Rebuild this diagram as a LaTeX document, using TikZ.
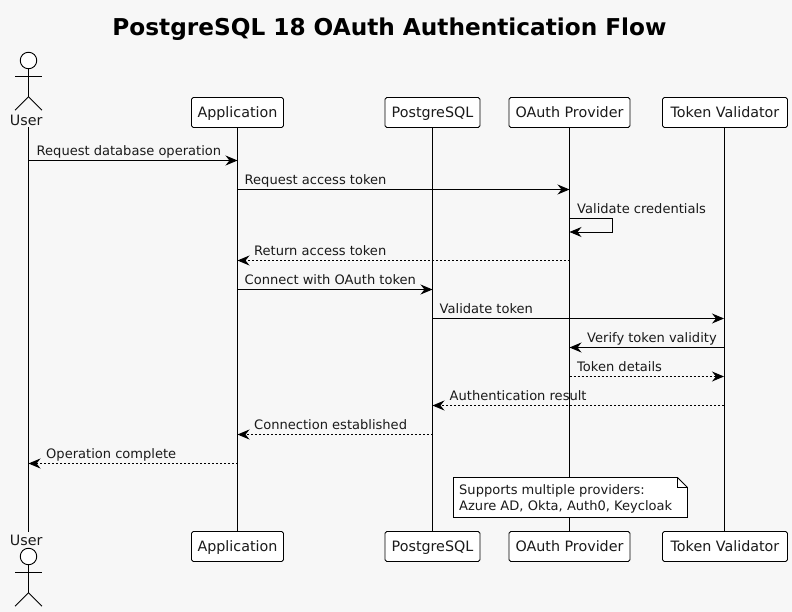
\documentclass[tikz,border=0pt]{standalone}
\usepackage{fontspec}
\setmainfont{DejaVu Sans}
\usetikzlibrary{arrows.meta}
\definecolor{bgc}{HTML}{F7F7F7}
\definecolor{txt}{HTML}{1A1A1A}
\tikzset{
  x=1pt,y=-1pt,
  life/.style={line width=0.9pt,black},
  part/.style={draw=black,fill=white,line width=0.9pt,rounded corners=1.8pt,minimum height=30pt,inner sep=0pt,text height=12pt,text depth=1.6pt,text=txt,font=\fontsize{14.3}{16}\selectfont},
  msg/.style={line width=0.9pt,black,-{Stealth[length=12pt,width=10pt,inset=4pt]}},
  ret/.style={msg,dash pattern=on 2pt off 2pt},
  lbl/.style={anchor=base west,inner sep=0pt,text=txt,font=\fontsize{13.05}{16}\selectfont},
  actorlbl/.style={anchor=base,inner sep=0pt,text=txt,font=\fontsize{14.3}{16}\selectfont},
  actorline/.style={line width=0.9pt,black},
}
\begin{document}
\begin{tikzpicture}
\useasboundingbox[fill=bgc] (0,0) rectangle (792,612);
\node[anchor=base,inner sep=0pt,font=\fontsize{23.2}{26}\bfseries\selectfont] (title) at (389.5,36) {PostgreSQL 18 OAuth Authentication Flow};

% lifelines (drawn first, the boxes sit on top)
\foreach \nm/\xx in {u/28.5,a/237.5,p/432.5,o/569.5,t/724}{
  \coordinate (\nm top) at (\xx,127.5);
  \coordinate (\nm bot) at (\xx,532);
  \draw[life] (\nm top) -- (\nm bot);
}

% participants
\node[part,minimum width=92pt] (appT) at (237.5,112.5) {Application};
\node[part,minimum width=95pt] (pgT) at (432.5,112.5) {PostgreSQL};
\node[part,minimum width=121pt] (oaT) at (569.5,112.5) {OAuth Provider};
\node[part,minimum width=125pt] (tvT) at (725,112.5) {Token Validator};
\node[part,minimum width=92pt] (appB) at (237.5,546.5) {Application};
\node[part,minimum width=95pt] (pgB) at (432.5,546.5) {PostgreSQL};
\node[part,minimum width=121pt] (oaB) at (569.5,546.5) {OAuth Provider};
\node[part,minimum width=125pt] (tvB) at (725,546.5) {Token Validator};
\node[actorlbl] (userT) at (26.2,126) {User};
\node[actorlbl] (userB) at (26.2,545) {User};

% actors
\foreach \yy/\nm in {60.5/a,556.5/b}{
  \node[draw=black,fill=white,line width=0.9pt,circle,minimum size=16.5pt,inner sep=0pt] (head\nm) at (28.5,\yy) {};
  \draw[actorline] (head\nm.south) -- ++(0,27.5) -- ++(-13.5,13.5);
  \draw[actorline] (head\nm.south) ++(0,27.5) -- ++(13.5,13.5);
  \draw[actorline] (head\nm.south) ++(-13.5,7.5) -- ++(27,0);
}

% message anchors: one row per message
\foreach \nm/\xx in {u/28.5,a/237.5,p/432.5,o/569.5,t/724}{
  \foreach \rw/\yy in {1/160.5,2/189.5,3/218,4/232,5/260.5,6/289.5,7/318.5,8/347.5,9/376.5,10/405.5,11/434.5,12/463.5}{
    \coordinate (\nm r\rw) at (\xx,\yy);
  }
}
\draw[msg] (ur1) -- (ar1);
\node[lbl] (m1) at (36.5,155.5) {Request database operation};
\draw[msg] (ar2) -- (or2);
\node[lbl] (m2) at (244.5,184.5) {Request access token};
\coordinate (s1) at (612.5,218);
\coordinate (s2) at (612.5,232);
\draw[msg] (or3) -- (s1) -- (s2) -- (or4);
\node[lbl] (m3) at (577,213.5) {Validate credentials};
\draw[ret] (or5) -- (ar5);
\node[lbl] (m4) at (254,255.5) {Return access token};
\draw[msg] (ar6) -- (pr6);
\node[lbl] (m5) at (244.5,284.5) {Connect with OAuth token};
\draw[msg] (pr7) -- (tr7);
\node[lbl] (m6) at (439.5,313.5) {Validate token};
\draw[msg] (tr8) -- (or8);
\node[lbl] (m7) at (587,342.5) {Verify token validity};
\draw[ret] (or9) -- (tr9);
\node[lbl] (m8) at (577,371.5) {Token details};
\draw[ret] (tr10) -- (pr10);
\node[lbl] (m9) at (449.5,400.5) {Authentication result};
\draw[ret] (pr11) -- (ar11);
\node[lbl] (m10) at (254,429.5) {Connection established};
\draw[ret] (ar12) -- (ur12);
\node[lbl] (m11) at (46,458.5) {Operation complete};

% note
\draw[line width=0.9pt,black,fill=white] (453.5,477.5) -- (677.5,477.5) -- (687.5,487.5) -- (687.5,517.5) -- (453.5,517.5) -- cycle;
\draw[line width=0.9pt,black] (677.5,477.5) -- (677.5,487.5) -- (687.5,487.5);
\node[lbl] (n1) at (459,494.5) {Supports multiple providers:};
\node[lbl] (n2) at (459,510.5) {Azure AD, Okta, Auth0, Keycloak};
\end{tikzpicture}
\end{document}
